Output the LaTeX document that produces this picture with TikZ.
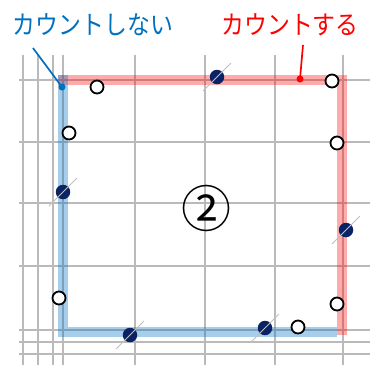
\documentclass[tikz,border=0pt]{standalone}
\usepackage{fontspec}
\newfontfamily\jpfont{Noto Sans CJK JP}
\definecolor{cntblue}{RGB}{0,112,192}
\definecolor{cntred}{RGB}{255,0,0}
\definecolor{navydot}{RGB}{10,35,100}
\tikzset{
  gridline/.style={draw=black!27, line width=1.4pt},
  bluepath/.style={draw=cntblue, draw opacity=0.35, line width=10.5pt, line cap=rect},
  redpath/.style={draw=cntred, draw opacity=0.33, line width=10.5pt, line cap=rect},
  opendot/.style={circle, draw=black, fill=white, line width=1.8pt, minimum size=13pt, inner sep=0pt},
  navy/.style={circle, fill=navydot, minimum size=14.5pt, inner sep=0pt},
  slash/.style={draw=black!25, line width=0.8pt},
  lbl/.style={font=\jpfont\fontsize{26}{26}\selectfont, inner sep=0pt},
  leader/.style={line width=1.7pt},
}
\begin{document}
\begin{tikzpicture}[x=1pt,y=-1pt]
\useasboundingbox (0,0) rectangle (370,365);
% grid
\foreach \yy in {80,142,203,266,330,342,354}
  \draw[gridline] (19,\yy) -- (370,\yy);
\foreach \xx in {23,38,53,63,135,205,275,343}
  \draw[gridline] (\xx,55) -- (\xx,365);
% paths
\draw[redpath] (63,80) -- (342,80) -- (342,330);
\draw[bluepath] (63,80) -- (63,332) -- (332,332);
% labels
\node[lbl, text=cntblue] (nocount) at (93,25) {\scalebox{0.88}[1]{カウントしない}};
\node[lbl, text=cntred] (count) at (290,25) {\scalebox{0.88}[1]{カウントする}};
\coordinate (bstart) at (33,48);
\coordinate (rstart) at (303,45);
\node[circle, fill=cntblue, minimum size=7pt, inner sep=0pt] (bdot) at (62,87) {};
\node[circle, fill=cntred, minimum size=7pt, inner sep=0pt] (rdot) at (300,79) {};
\draw[leader, cntblue] (bstart) -- (bdot.center);
\draw[leader, cntred] (rstart) -- (rdot.center);
% open dots
\node[opendot] (o1) at (97,87) {};
\node[opendot] (o2) at (332,81) {};
\node[opendot] (o3) at (69,133) {};
\node[opendot] (o4) at (337,143) {};
\node[opendot] (o5) at (59,298) {};
\node[opendot] (o6) at (337,304) {};
\node[opendot] (o7) at (298,327) {};
% navy dots
\foreach \nm/\px/\py in {n1/217/77, n2/63/192, n3/346/230, n4/130/335, n5/265/328}{
  \node[navy] (\nm) at (\px,\py) {};
  \draw[slash] ([shift={(-14,14)}]\nm.center) -- ([shift={(14,-14)}]\nm.center);
}
% center label
\node[font=\jpfont\fontsize{50}{50}\selectfont, inner sep=0pt] (two) at (206,208) {②};
\end{tikzpicture}
\end{document}
